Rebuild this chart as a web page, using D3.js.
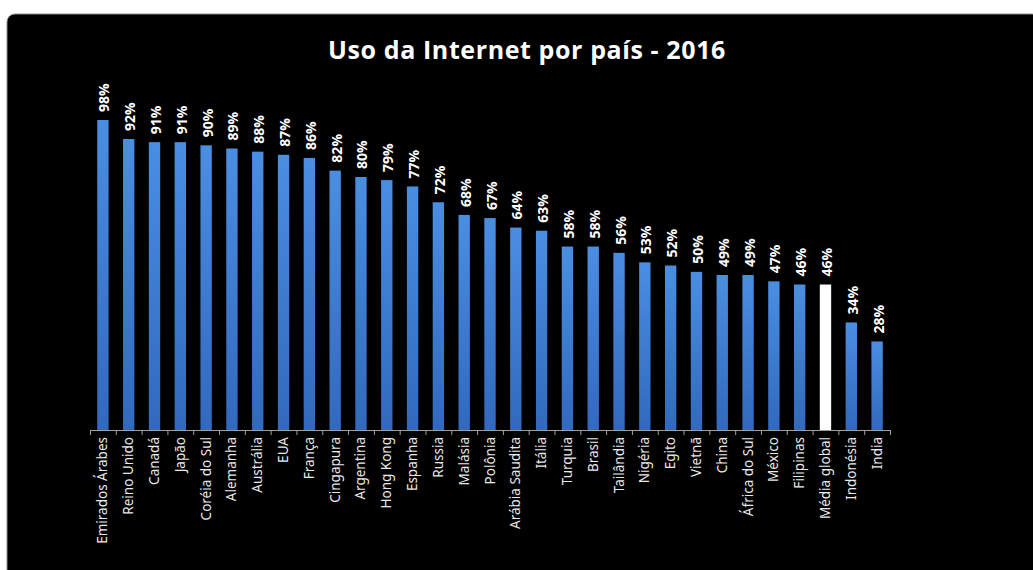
<!DOCTYPE html>
<html>
<head>
<meta charset="utf-8">
<script src="https://cdn.jsdelivr.net/npm/d3@7.9.0/dist/d3.min.js"></script>
<style>
  html, body { margin: 0; padding: 0; background: #fff; }
  svg { display: block; }
</style>
</head>
<body>
<svg id="chart"></svg>
<script>
// Data
const countries = [
  'Emirados Árabes', 'Reino Unido', 'Canadá', 'Japão', 'Coréia do Sul',
  'Alemanha', 'Austrália', 'EUA', 'França', 'Cingapura', 'Argentina',
  'Hong Kong', 'Espanha', 'Russia', 'Malásia', 'Polônia', 'Arábia Saudita',
  'Itália', 'Turquia', 'Brasil', 'Tailândia', 'Nigéria', 'Egito', 'Vietnã',
  'China', 'África do Sul', 'México', 'Filipinas', 'Média global',
  'Indonésia', 'India'
];
const usage = [98, 92, 91, 91, 90, 89, 88, 87, 86, 82, 80, 79, 77, 72, 68, 67,
  64, 63, 58, 58, 56, 53, 52, 50, 49, 49, 47, 46, 46, 34, 28];
const highlight = 'Média global';
const title = 'Uso da Internet por país - 2016';

const width = 1033;
const height = 570;

const svg = d3.select('#chart')
  .attr('width', width)
  .attr('height', height);

// Gradient for the blue bars
const defs = svg.append('defs');
const grad = defs.append('linearGradient')
  .attr('id', 'barGrad')
  .attr('x1', 0).attr('y1', 0).attr('x2', 0).attr('y2', 1);
grad.append('stop').attr('offset', '0%').attr('stop-color', '#4a8ee2');
grad.append('stop').attr('offset', '100%').attr('stop-color', '#3169bd');

// Black panel with rounded top-left corner
svg.append('rect')
  .attr('x', 7).attr('y', 14)
  .attr('width', width).attr('height', height)
  .attr('rx', 8)
  .attr('fill', '#000')
  .attr('stroke', '#8a8a8a')
  .attr('stroke-width', 1);

// Title
svg.append('text')
  .attr('x', 527)
  .attr('y', 59)
  .attr('text-anchor', 'middle')
  .attr('fill', '#fff')
  .style('font-family', "'Open Sans', sans-serif")
  .style('font-weight', 'bold')
  .style('font-size', '25px')
  .style('letter-spacing', '0.6px')
  .text(title);

// Scales
const area = { left: 90, right: 890, bottom: 430 };

const x = d3.scaleBand()
  .domain(countries)
  .range([area.left, area.right])
  .paddingInner(0.56)
  .paddingOuter(0.28);

const y = d3.scaleLinear()
  .domain([0, 100])
  .range([area.bottom, 113.7]);

// Bars
svg.append('g')
  .selectAll('rect')
  .data(countries)
  .join('rect')
  .attr('x', (d) => x(d))
  .attr('y', (d, i) => y(usage[i]))
  .attr('width', x.bandwidth())
  .attr('height', (d, i) => y(0) - y(usage[i]))
  .attr('fill', (d) => d === highlight ? '#fff' : 'url(#barGrad)');

// Value labels
svg.append('g')
  .selectAll('text')
  .data(countries)
  .join('text')
  .attr('transform', (d, i) =>
    `translate(${x(d) + x.bandwidth() / 2 + 6.5}, ${y(usage[i]) - 8}) rotate(-90)`)
  .attr('fill', '#fff')
  .style('font-family', "'Open Sans', sans-serif")
  .style('font-weight', 'bold')
  .style('font-size', '14px')
  .text((d, i) => usage[i] + '%');

// X axis: tick marks between categories
const step = x.step();
const boundaries = d3.range(countries.length + 1)
  .map((i) => area.left + i * step);

const axis = svg.append('g').attr('class', 'axis');
axis.append('line')
  .attr('x1', area.left).attr('x2', area.right)
  .attr('y1', area.bottom + 0.5).attr('y2', area.bottom + 0.5)
  .attr('stroke', '#a0a0a0');
axis.selectAll('line.tick')
  .data(boundaries)
  .join('line')
  .attr('class', 'tick')
  .attr('x1', (d) => d + 0.5).attr('x2', (d) => d + 0.5)
  .attr('y1', area.bottom).attr('y2', area.bottom + 5)
  .attr('stroke', '#a0a0a0');

// Category labels
axis.selectAll('text')
  .data(countries)
  .join('text')
  .attr('transform', (d) =>
    `translate(${x(d) + x.bandwidth() / 2 + 4.5}, ${area.bottom + 7}) rotate(-90)`)
  .attr('text-anchor', 'end')
  .attr('fill', '#e8e8e8')
  .style('font-family', "'Noto Sans', sans-serif")
  .style('font-size', '13.5px')
  .text((d) => d);
</script>
</body>
</html>
